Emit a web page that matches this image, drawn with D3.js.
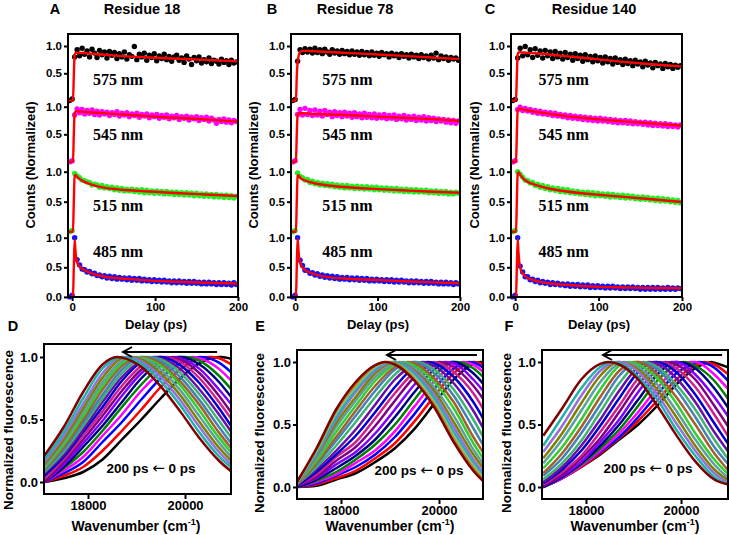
<!DOCTYPE html>
<html><head><meta charset="utf-8">
<script src="https://cdn.jsdelivr.net/npm/d3@7"></script>
<style>body{margin:0;background:#fff}svg{display:block}</style>
</head><body>
<script>
// ---------------- DATA : top panels (kinetic traces) ----------------
const residues = ["Residue 18", "Residue 78", "Residue 140"];
const wavelengths = ["575 nm", "545 nm", "515 nm", "485 nm"];
const traceColors = ["#000000", "#ff00ff", "#22ee22", "#1414ff"];
const delays = [-3,0,3,6,9,12,15,18,21,24,27,30,33,36,39,42,45,48,51,54,57,60,63,66,69,72,75,78,81,84,87,90,93,96,99,102,105,108,111,114,117,120,123,126,129,132,135,138,141,144,147,150,153,156,159,162,165,168,171,174,177,180,183,186,189,192,195,198];
const fitDelays = [-5,1,2,3,4,5,7,10,15,20,30,40,60,80,100,130,160,200];
const delayTicks = [0, 100, 200];

const A575 = [0.00,0.03,0.80,0.93,0.82,0.96,0.85,0.91,0.80,0.94, 0.87,0.79,0.92,0.84,0.89,0.78,0.90,0.83,0.88,0.77, 0.86,0.80,0.89,0.76,0.84,0.81,0.99,0.75,0.85,0.80, 0.87,0.74,0.83,0.79,0.86,0.73,0.82,0.77,0.85,0.75, 0.81,0.72,0.80,0.83,0.74,0.78,0.70,0.82,0.76,0.66, 0.79,0.73,0.80,0.69,0.75,0.71,0.78,0.68,0.74,0.72, 0.67,0.76,0.70,0.73,0.66,0.74,0.69,0.71];
const A545 = [0.00,0.02,0.85,0.96,0.89,0.95,0.87,0.93,0.88,0.94, 0.86,0.92,0.85,0.91,0.87,0.90,0.84,0.89,0.86,0.91, 0.83,0.88,0.85,0.89,0.82,0.87,0.84,0.88,0.81,0.86, 0.83,0.87,0.80,0.85,0.82,0.86,0.79,0.84,0.81,0.85, 0.78,0.83,0.80,0.84,0.77,0.82,0.79,0.83,0.76,0.81, 0.78,0.82,0.75,0.80,0.77,0.81,0.74,0.79,0.76,0.70, 0.77,0.73,0.78,0.72,0.76,0.71,0.75,0.73];
const A515 = [0.00,0.02,0.97,0.93,0.90,0.86,0.85,0.83,0.82,0.78, 0.79,0.78,0.74,0.77,0.73,0.75,0.72,0.74,0.70,0.73, 0.69,0.72,0.68,0.71,0.68,0.71,0.67,0.70,0.66,0.70, 0.65,0.69,0.65,0.68,0.64,0.68,0.64,0.67,0.63,0.67, 0.63,0.66,0.62,0.66,0.62,0.65,0.61,0.65,0.61,0.64, 0.60,0.64,0.60,0.63,0.59,0.63,0.59,0.62,0.58,0.62, 0.58,0.61,0.57,0.61,0.57,0.60,0.56,0.59];
const A485 = [0.00,0.03,1.00,0.63,0.54,0.47,0.46,0.42,0.43,0.39, 0.40,0.36,0.37,0.34,0.36,0.32,0.35,0.31,0.34,0.30, 0.33,0.30,0.32,0.29,0.32,0.28,0.31,0.28,0.31,0.27, 0.30,0.27,0.29,0.26,0.29,0.26,0.28,0.25,0.28,0.25, 0.27,0.24,0.27,0.24,0.27,0.24,0.26,0.23,0.26,0.23, 0.26,0.23,0.25,0.22,0.25,0.22,0.25,0.22,0.24,0.21, 0.24,0.21,0.24,0.21,0.23,0.20,0.24,0.21];
const B575 = [0.00,0.02,0.72,0.93,0.88,0.95,0.89,0.94,0.87,0.96, 0.88,0.93,0.86,0.94,0.89,0.85,0.93,0.87,0.91,0.85, 0.92,0.86,0.90,0.84,0.91,0.85,0.89,0.83,0.90,0.84, 0.88,0.82,0.89,0.83,0.87,0.81,0.88,0.84,0.86,0.80, 0.87,0.82,0.85,0.79,0.86,0.81,0.84,0.78,0.85,0.80, 0.83,0.77,0.84,0.79,0.82,0.76,0.83,0.78,0.87,0.75, 0.82,0.77,0.80,0.74,0.79,0.76,0.78,0.74];
const B545 = [0.00,0.02,0.86,0.95,0.85,0.97,0.86,0.93,0.84,0.94, 0.85,0.92,0.83,0.93,0.86,0.90,0.82,0.91,0.84,0.89, 0.82,0.90,0.83,0.88,0.81,0.89,0.82,0.87,0.80,0.88, 0.81,0.86,0.80,0.87,0.79,0.85,0.80,0.86,0.78,0.84, 0.79,0.85,0.77,0.83,0.78,0.84,0.76,0.82,0.77,0.83, 0.75,0.81,0.76,0.82,0.74,0.80,0.75,0.79,0.73,0.78, 0.74,0.77,0.72,0.76,0.71,0.75,0.70,0.74];
const B515 = [0.00,0.02,0.98,0.92,0.90,0.86,0.87,0.82,0.84,0.80, 0.82,0.78,0.81,0.77,0.80,0.76,0.79,0.75,0.78,0.74, 0.77,0.73,0.77,0.73,0.76,0.72,0.76,0.72,0.75,0.71, 0.75,0.71,0.74,0.70,0.74,0.70,0.73,0.69,0.73,0.69, 0.72,0.68,0.72,0.68,0.71,0.67,0.71,0.67,0.70,0.66, 0.70,0.66,0.69,0.66,0.69,0.65,0.68,0.65,0.68,0.64, 0.67,0.64,0.67,0.63,0.66,0.63,0.66,0.64];
const B485 = [0.00,0.03,1.00,0.62,0.53,0.45,0.45,0.40,0.41,0.37, 0.39,0.35,0.37,0.33,0.36,0.32,0.35,0.31,0.34,0.30, 0.33,0.30,0.33,0.29,0.32,0.29,0.32,0.28,0.31,0.28, 0.31,0.27,0.30,0.27,0.30,0.27,0.29,0.26,0.29,0.26, 0.29,0.25,0.28,0.25,0.28,0.25,0.27,0.24,0.27,0.24, 0.27,0.24,0.26,0.23,0.26,0.23,0.26,0.23,0.25,0.22, 0.25,0.22,0.25,0.22,0.24,0.21,0.24,0.22];
const C575 = [0.00,0.02,0.78,0.96,0.82,0.99,0.84,0.93,0.79,0.95, 0.83,0.91,0.78,0.92,0.82,0.89,0.77,0.90,0.80,0.87, 0.76,0.88,0.79,0.85,0.74,0.86,0.77,0.83,0.72,0.84, 0.75,0.81,0.71,0.82,0.73,0.79,0.69,0.80,0.71,0.77, 0.67,0.78,0.70,0.75,0.66,0.76,0.68,0.73,0.64,0.74, 0.67,0.71,0.62,0.72,0.65,0.69,0.60,0.70,0.64,0.67, 0.59,0.68,0.62,0.66,0.59,0.65,0.61,0.64];
const C545 = [0.00,0.02,0.95,0.99,0.93,0.97,0.92,0.95,0.90,0.93, 0.88,0.92,0.87,0.90,0.86,0.89,0.84,0.88,0.83,0.86, 0.82,0.85,0.80,0.84,0.79,0.83,0.78,0.82,0.77,0.81, 0.76,0.80,0.75,0.79,0.74,0.79,0.74,0.78,0.73,0.77, 0.72,0.76,0.71,0.75,0.71,0.75,0.70,0.74,0.69,0.73, 0.69,0.72,0.68,0.72,0.67,0.71,0.66,0.70,0.66,0.69, 0.65,0.69,0.64,0.68,0.64,0.67,0.63,0.67];
const C515 = [0.00,0.02,1.00,0.96,0.91,0.86,0.85,0.81,0.82,0.77, 0.79,0.74,0.77,0.72,0.75,0.70,0.73,0.69,0.72,0.67, 0.71,0.66,0.70,0.65,0.68,0.64,0.67,0.63,0.66,0.62, 0.66,0.61,0.65,0.60,0.64,0.60,0.63,0.59,0.63,0.58, 0.62,0.58,0.61,0.57,0.61,0.56,0.60,0.56,0.59,0.55, 0.58,0.54,0.58,0.54,0.57,0.53,0.56,0.52,0.56,0.51, 0.55,0.51,0.54,0.50,0.53,0.49,0.52,0.48];
const C485 = [0.00,0.03,1.00,0.52,0.42,0.34,0.34,0.29,0.30,0.26, 0.28,0.24,0.26,0.23,0.25,0.21,0.24,0.21,0.23,0.20, 0.22,0.19,0.22,0.18,0.21,0.18,0.21,0.17,0.20,0.17, 0.20,0.16,0.19,0.16,0.19,0.16,0.18,0.15,0.18,0.15, 0.18,0.15,0.17,0.14,0.17,0.14,0.17,0.14,0.17,0.14, 0.16,0.13,0.16,0.13,0.16,0.13,0.16,0.13,0.16,0.13, 0.15,0.13,0.16,0.13,0.15,0.13,0.15,0.14];

const A575fit = [0,0,0.45,0.84,0.87,0.877,0.877,0.875,0.87,0.865,0.85,0.84,0.815,0.80,0.785,0.765,0.745,0.72];
const A545fit = [0,0,0.5,0.88,0.91,0.915,0.915,0.91,0.905,0.90,0.89,0.88,0.86,0.84,0.82,0.795,0.77,0.73];
const A515fit = [0,0,0.5,0.93,0.945,0.93,0.90,0.87,0.83,0.80,0.76,0.73,0.70,0.68,0.665,0.64,0.62,0.595];
const A485fit = [0,0,0.5,0.96,0.78,0.64,0.55,0.50,0.45,0.42,0.37,0.34,0.31,0.29,0.27,0.255,0.24,0.225];
const B575fit = [0,0,0.45,0.70,0.80,0.86,0.90,0.91,0.91,0.905,0.90,0.89,0.875,0.86,0.845,0.82,0.795,0.76];
const B545fit = [0,0,0.5,0.84,0.87,0.88,0.88,0.88,0.875,0.87,0.865,0.86,0.85,0.835,0.82,0.80,0.78,0.74];
const B515fit = [0,0,0.5,0.93,0.94,0.92,0.89,0.865,0.84,0.82,0.79,0.77,0.745,0.725,0.71,0.69,0.67,0.65];
const B485fit = [0,0,0.5,0.98,0.80,0.64,0.54,0.48,0.43,0.40,0.36,0.335,0.31,0.295,0.285,0.265,0.25,0.23];
const C575fit = [0,0,0.45,0.85,0.88,0.885,0.885,0.88,0.875,0.87,0.86,0.845,0.815,0.785,0.755,0.71,0.67,0.625];
const C545fit = [0,0,0.5,0.93,0.96,0.965,0.96,0.95,0.935,0.92,0.895,0.875,0.83,0.80,0.77,0.735,0.70,0.655];
const C515fit = [0,0,0.5,0.97,0.99,0.97,0.93,0.88,0.83,0.80,0.755,0.72,0.675,0.64,0.615,0.58,0.545,0.495];
const C485fit = [0,0,0.5,0.97,0.75,0.58,0.45,0.38,0.32,0.29,0.255,0.23,0.205,0.185,0.17,0.16,0.15,0.145];

// ---------------- DATA : bottom panels (time-resolved spectra) ----------------
const wavenumberGrid = [17100,17500,17900,18300,18700,19100,19500,19900,20300,20700,21000];
const wavenumberTicks = [18000, 20000];
const fluorTicks = [0, 0.5, 1.0];

const D_peaks = [20750,20520,20320,20150,20000,19870,19750,19640,19540,19440,19350,19260,19170,19090,19010,18930,18850,18770,18690,18600];
const D_spectra = [
 [0,0.03,0.08,0.18,0.34,0.50,0.67,0.83,0.95,1.0,0.98],
 [0,0.05,0.12,0.25,0.41,0.58,0.76,0.90,0.99,0.99,0.93],
 [0,0.07,0.16,0.32,0.48,0.66,0.83,0.95,1.0,0.955,0.86],
 [0,0.09,0.20,0.37,0.54,0.73,0.88,0.98,0.99,0.905,0.79],
 [0,0.11,0.24,0.41,0.60,0.78,0.93,1.0,0.97,0.85,0.72],
 [0,0.12,0.28,0.45,0.64,0.83,0.96,1.0,0.94,0.80,0.655],
 [0,0.14,0.31,0.49,0.69,0.87,0.98,0.99,0.905,0.74,0.60],
 [0,0.16,0.34,0.53,0.73,0.90,0.99,0.98,0.87,0.69,0.53],
 [0.03,0.18,0.37,0.565,0.77,0.93,1.0,0.96,0.83,0.64,0.48],
 [0.05,0.20,0.40,0.60,0.81,0.96,1.0,0.935,0.79,0.59,0.42],
 [0.07,0.22,0.42,0.64,0.84,0.97,0.99,0.905,0.74,0.54,0.375],
 [0.08,0.24,0.45,0.67,0.87,0.99,0.98,0.875,0.70,0.49,0.33],
 [0.09,0.26,0.475,0.70,0.90,1.0,0.965,0.84,0.655,0.44,0.285],
 [0.10,0.28,0.50,0.74,0.93,1.0,0.945,0.805,0.615,0.395,0.25],
 [0.11,0.30,0.53,0.77,0.95,0.995,0.93,0.775,0.57,0.355,0.215],
 [0.12,0.32,0.56,0.80,0.97,0.99,0.90,0.735,0.525,0.315,0.18],
 [0.14,0.34,0.59,0.835,0.99,0.98,0.87,0.695,0.48,0.275,0.15],
 [0.16,0.37,0.625,0.87,1.0,0.965,0.84,0.655,0.44,0.24,0.12],
 [0.18,0.40,0.67,0.91,1.0,0.945,0.805,0.615,0.395,0.205,0.10],
 [0.21,0.44,0.72,0.94,0.995,0.92,0.765,0.565,0.35,0.17,0.07]
];
const E_peaks = [20850,20730,20610,20490,20370,20250,20130,20010,19890,19770,19660,19550,19450,19360,19280,19200,19130,19070,19020,18970,18930,18900];
const E_spectra = [
 [0,0.01,0.06,0.11,0.20,0.31,0.465,0.665,0.86,0.985,0.99],
 [0,0.02,0.07,0.13,0.23,0.35,0.525,0.725,0.91,1.0,0.96],
 [0,0.03,0.09,0.16,0.26,0.40,0.585,0.785,0.947,0.996,0.928],
 [0,0.04,0.10,0.193,0.294,0.445,0.645,0.844,0.977,0.978,0.885],
 [0,0.05,0.12,0.22,0.34,0.50,0.70,0.89,1.0,0.95,0.84],
 [0,0.06,0.15,0.25,0.38,0.56,0.76,0.94,1.0,0.91,0.78],
 [0.01,0.07,0.18,0.28,0.43,0.62,0.82,0.97,0.99,0.86,0.72],
 [0.01,0.08,0.21,0.32,0.49,0.69,0.88,0.99,0.96,0.81,0.65],
 [0.01,0.10,0.24,0.36,0.55,0.75,0.92,1.0,0.92,0.75,0.56],
 [0.01,0.12,0.26,0.41,0.60,0.80,0.96,0.99,0.88,0.68,0.48],
 [0.02,0.14,0.29,0.46,0.66,0.86,0.98,0.97,0.83,0.61,0.40],
 [0.02,0.16,0.33,0.52,0.72,0.90,1.0,0.94,0.78,0.54,0.33],
 [0.02,0.18,0.37,0.57,0.77,0.94,1.0,0.91,0.73,0.47,0.27],
 [0.02,0.19,0.40,0.61,0.81,0.96,0.99,0.87,0.68,0.40,0.22],
 [0.03,0.21,0.44,0.65,0.85,0.98,0.97,0.84,0.63,0.35,0.17],
 [0.03,0.23,0.48,0.69,0.88,0.99,0.95,0.80,0.57,0.30,0.13],
 [0.03,0.25,0.51,0.72,0.91,1.0,0.93,0.77,0.52,0.26,0.10],
 [0.03,0.26,0.54,0.76,0.93,1.0,0.92,0.74,0.48,0.22,0.07],
 [0.04,0.27,0.56,0.78,0.945,1.0,0.90,0.71,0.44,0.19,0.05],
 [0.04,0.29,0.59,0.80,0.96,0.99,0.88,0.68,0.41,0.17,0.03],
 [0.04,0.30,0.61,0.82,0.97,0.99,0.86,0.66,0.38,0.15,0.02],
 [0.04,0.31,0.62,0.84,0.975,0.98,0.85,0.64,0.36,0.13,0.01]
];
const F_peaks = [20650,20500,20350,20200,20060,19930,19800,19670,19550,19430,19320,19210,19100,19000,18900,18800,18710,18630,18550,18470];
const F_spectra = [
 [0,0.07,0.16,0.26,0.38,0.50,0.65,0.82,0.95,0.995,0.955],
 [0,0.07,0.16,0.27,0.39,0.53,0.69,0.86,0.97,0.98,0.90],
 [0,0.07,0.17,0.28,0.40,0.56,0.74,0.91,0.99,0.955,0.845],
 [0,0.07,0.17,0.29,0.43,0.60,0.79,0.95,1.0,0.90,0.78],
 [0,0.08,0.18,0.31,0.46,0.65,0.85,0.98,0.97,0.85,0.70],
 [0,0.08,0.19,0.33,0.50,0.70,0.90,1.0,0.95,0.79,0.63],
 [0.01,0.09,0.20,0.36,0.54,0.76,0.94,1.0,0.90,0.72,0.56],
 [0.01,0.10,0.23,0.39,0.60,0.82,0.97,0.98,0.86,0.65,0.48],
 [0.02,0.12,0.25,0.44,0.65,0.87,0.99,0.95,0.80,0.58,0.40],
 [0.03,0.14,0.29,0.49,0.71,0.92,1.0,0.92,0.74,0.51,0.34],
 [0.04,0.16,0.33,0.54,0.77,0.96,0.99,0.87,0.68,0.44,0.28],
 [0.06,0.19,0.37,0.60,0.83,0.99,0.96,0.82,0.62,0.38,0.22],
 [0.09,0.23,0.43,0.66,0.89,1.0,0.94,0.78,0.56,0.32,0.18],
 [0.11,0.27,0.48,0.72,0.93,1.0,0.90,0.72,0.50,0.27,0.13],
 [0.15,0.32,0.54,0.78,0.97,0.98,0.87,0.67,0.43,0.22,0.10],
 [0.19,0.38,0.61,0.84,0.99,0.96,0.82,0.61,0.38,0.18,0.07],
 [0.23,0.43,0.67,0.89,1.0,0.94,0.78,0.56,0.33,0.14,0.05],
 [0.28,0.49,0.73,0.93,1.0,0.92,0.74,0.51,0.29,0.11,0.03],
 [0.33,0.56,0.79,0.96,0.99,0.88,0.70,0.46,0.25,0.08,0.02],
 [0.41,0.63,0.86,0.985,0.98,0.86,0.65,0.415,0.205,0.06,0.02]
];
const spectrumColors = ["#000000","#ff0000","#0000ff","#ff00ff","#008000","#000080","#8000ff","#800080","#d02090","#0000cd","#6a0dad","#3cb371","#4682b4","#a0622d","#32cd32","#5f9ea0","#808000","#9370db","#20b2aa","#8fbc8f","#b8860b"];
const lastSpectrumColor = "#800000";
const timeLabelParts = ["200 ps ", "\u2190", " 0 ps"];

// ---------------- DRAWING ----------------
const SANS = "'Liberation Sans', Arial, Helvetica, sans-serif";
const SERIF = "'Liberation Serif', 'Times New Roman', serif";
const svg = d3.select("body").append("svg").attr("width", 729).attr("height", 535);

function styleAxis(sel, size) {
  sel.select(".domain").remove();
  sel.selectAll(".tick line").attr("stroke", "#000").attr("stroke-width", 2);
  sel.selectAll(".tick text").attr("font-family", SANS).attr("font-weight", "bold")
     .attr("font-size", size).attr("fill", "#000");
}
function boldText(x, y, str, size, anchor) {
  return svg.append("text").attr("x", x).attr("y", y).attr("font-family", SANS)
    .attr("font-weight", "bold").attr("font-size", size).attr("text-anchor", anchor || "middle")
    .attr("fill", "#000").text(str);
}

// top panel layout
const topBoxTop = 34, topBoxBottom = 297;
const segOne = [46, 106.7, 171.7, 237.7];
const segZero = [100.6, 161.9, 231.7, 296.9];
const labelLevel = [0.38, 0.49, 0.445, 0.775];
const topPanels = [
  {letter:"A", title:residues[0], x0:68, x1:238, series:[A575,A545,A515,A485], fits:[A575fit,A545fit,A515fit,A485fit], labelDelay:25, letterX:55, titleX:142, yLabX:30, xLabX:156},
  {letter:"B", title:residues[1], x0:291, x1:460, series:[B575,B545,B515,B485], fits:[B575fit,B545fit,B515fit,B485fit], labelDelay:33, letterX:272, titleX:355, yLabX:253, xLabX:378},
  {letter:"C", title:residues[2], x0:511, x1:682, series:[C575,C545,C515,C485], fits:[C575fit,C545fit,C515fit,C485fit], labelDelay:28, letterX:490, titleX:594, yLabX:474, xLabX:599}
];

topPanels.forEach(p => {
  const x = d3.scaleLinear().domain([-5, 200]).range([p.x0, p.x1]);
  const g = svg.append("g");
  for (let k = 0; k < 4; k++) {
    const y = d3.scaleLinear().domain([0, 1]).range([segZero[k], segOne[k]]);
    const pts = p.series[k].map((v, i) => [delays[i], v]);
    g.append("g").selectAll("circle").data(pts).join("circle")
      .attr("cx", d => x(d[0])).attr("cy", d => y(d[1])).attr("r", 2.7)
      .attr("fill", traceColors[k]);
    const fit = fitDelays.map((t, i) => [t, p.fits[k][i]]);
    g.append("path").datum(fit)
      .attr("d", d3.line().x(d => x(d[0])).y(d => y(d[1])).curve(d3.curveMonotoneX))
      .attr("fill", "none").attr("stroke", "#ff0000").attr("stroke-width", 2.4);
    const ax = d3.axisLeft(y).tickValues(k === 3 ? [0, 0.5, 1] : [0.5, 1])
      .tickFormat(d3.format(".1f")).tickSize(4).tickPadding(2);
    svg.append("g").attr("transform", `translate(${p.x0},0)`).call(ax).call(s => styleAxis(s, 11.5));
    g.append("text").attr("x", x(p.labelDelay)).attr("y", y(labelLevel[k])).attr("dy", "0.35em")
      .attr("font-family", SERIF).attr("font-weight", "bold").attr("font-size", 16)
      .attr("fill", "#000").text(wavelengths[k]);
  }
  svg.append("rect").attr("x", p.x0).attr("y", topBoxTop).attr("width", p.x1 - p.x0)
    .attr("height", topBoxBottom - topBoxTop).attr("fill", "none").attr("stroke", "#000").attr("stroke-width", 2);
  const xa = d3.axisBottom(x).tickValues(delayTicks).tickFormat(d3.format("d")).tickSize(4).tickPadding(2);
  svg.append("g").attr("transform", `translate(0,${topBoxBottom})`).call(xa).call(s => styleAxis(s, 11.5));
  boldText(p.letterX, 14, p.letter, 14.5);
  boldText(p.titleX, 14, p.title, 14.5);
  boldText(p.xLabX, 329, "Delay (ps)", 13);
  boldText(0, 0, "Counts (Normalized)", 13).attr("transform", `translate(${p.yLabX},165) rotate(-90)`).attr("dy", "0.35em");
});

// bottom panels
const botPanels = [
  {letter:"D", lx:13, x0:44, x1:231, y0:344, y1:494, dom:[17093,20948], yr:[482,357], peaks:D_peaks, spectra:D_spectra,
   arrow:[20660,18722,1.04], tl:[19300,0.11], yLabX:8, yLabY:430, xLabX:136},
  {letter:"E", lx:260, x0:297, x1:483, y0:350, y1:499, dom:[17102,20898], yr:[487,362], peaks:E_peaks, spectra:E_spectra,
   arrow:[20775,18938,1.056], tl:[19592,0.136], yLabX:259, yLabY:433, xLabX:390},
  {letter:"F", lx:509, x0:542, x1:728, y0:350, y1:499, dom:[17074,20989], yr:[487,362], peaks:F_peaks, spectra:F_spectra,
   arrow:[20864,18358,1.056], tl:[19306,0.15], yLabX:506, yLabY:433, xLabX:635}
];

botPanels.forEach((p, pi) => {
  const x = d3.scaleLinear().domain(p.dom).range([p.x0, p.x1]);
  const y = d3.scaleLinear().domain([0, 1]).range(p.yr);
  const clipId = "clip" + pi;
  svg.append("clipPath").attr("id", clipId).append("rect")
    .attr("x", p.x0).attr("y", p.y0).attr("width", p.x1 - p.x0).attr("height", p.y1 - p.y0);
  const g = svg.append("g").attr("clip-path", `url(#${clipId})`);
  const line = d3.line().x(d => x(d[0])).y(d => y(d[1])).curve(d3.curveMonotoneX);
  const n = p.spectra.length;
  p.spectra.forEach((vals, i) => {
    let pts = wavenumberGrid.map((w, j) => [w, vals[j]]);
    const pk = p.peaks[i];
    if (!pts.some(d => Math.abs(d[0] - pk) < 30)) pts.push([pk, 1]);
    pts.sort((a, b) => a[0] - b[0]);
    g.append("path").datum(pts).attr("d", line).attr("fill", "none")
      .attr("stroke", i === n - 1 ? lastSpectrumColor : spectrumColors[i % spectrumColors.length])
      .attr("stroke-width", 2.5);
  });
  svg.append("rect").attr("x", p.x0).attr("y", p.y0).attr("width", p.x1 - p.x0).attr("height", p.y1 - p.y0)
    .attr("fill", "none").attr("stroke", "#000").attr("stroke-width", 2);
  const ya = d3.axisLeft(y).tickValues(fluorTicks).tickFormat(d3.format(".1f")).tickSize(4).tickPadding(2);
  svg.append("g").attr("transform", `translate(${p.x0},0)`).call(ya).call(s => styleAxis(s, 13));
  const xa = d3.axisBottom(x).tickValues(wavenumberTicks).tickFormat(d3.format("d")).tickSize(5).tickPadding(2);
  svg.append("g").attr("transform", `translate(0,${p.y1})`).call(xa).call(s => styleAxis(s, 13));
  // arrow
  const ax1 = x(p.arrow[0]), ax2 = x(p.arrow[1]), ay = y(p.arrow[2]);
  svg.append("line").attr("x1", ax1).attr("x2", ax2 + 1).attr("y1", ay).attr("y2", ay)
    .attr("stroke", "#000").attr("stroke-width", 2);
  svg.append("path").attr("d", `M${ax2 + 9},${ay - 5} L${ax2},${ay} L${ax2 + 9},${ay + 5}`)
    .attr("fill", "none").attr("stroke", "#000").attr("stroke-width", 2);
  const tl = boldText(x(p.tl[0]), y(p.tl[1]), "", 13.5).attr("dy", "0.35em");
  tl.append("tspan").text(timeLabelParts[0]);
  tl.append("tspan").attr("font-family", "'DejaVu Sans', sans-serif").attr("font-weight", "normal")
    .attr("font-size", 15).text(timeLabelParts[1]);
  tl.append("tspan").text(timeLabelParts[2]);
  boldText(p.lx, 331, p.letter, 14.5);
  boldText(0, 0, "Normalized fluorescence", 13.5)
    .attr("transform", `translate(${p.yLabX},${p.yLabY}) rotate(-90)`).attr("dy", "0.35em");
  const wl = boldText(p.xLabX, 531, "Wavenumber (cm", 14);
  wl.append("tspan").attr("font-size", 9).attr("dy", -6).text("-1");
  wl.append("tspan").attr("dy", 6).text(")");
});
</script>
</body></html>
